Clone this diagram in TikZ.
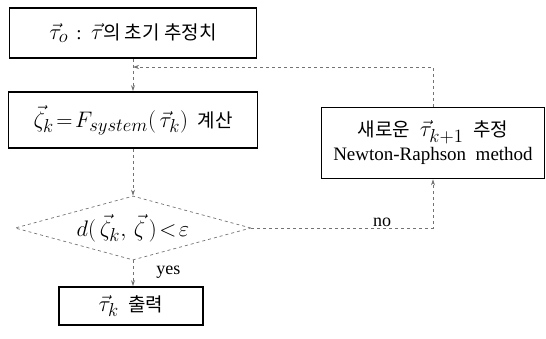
\documentclass[tikz,border=0pt]{standalone}
\usepackage{fontspec}
\usepackage{graphicx}
\setmainfont{Liberation Serif}
\newfontfamily\krfont{Noto Sans CJK KR}
\newcommand{\hk}[1]{{\krfont #1}}
% enlarged formula text
\newcommand{\fm}[1]{\scalebox{1.3}{$#1$}}
\usetikzlibrary{shapes.geometric,arrows.meta}
\begin{document}
\begin{tikzpicture}[x=1pt,y=-1pt,
  box/.style={draw=black,line width=1.6pt,inner sep=0pt,align=center,
    font=\fontsize{19}{24}\selectfont},
  cond/.style={diamond,aspect=3.7,draw=black!55,dashed,line width=0.7pt,inner sep=0pt,
    font=\fontsize{19}{23}\selectfont},
  conn/.style={draw=black!55,dashed,line width=0.7pt},
  arr/.style={conn,-{Stealth[length=6pt,width=4pt]}},
  lbl/.style={font=\fontsize{18}{20}\selectfont,inner sep=1pt}]
\useasboundingbox (0,0) rectangle (546,338);
\node[box,minimum width=247,minimum height=50] (init) at (133,33)
  {\fm{\vec{\tau}_o} \,:\, \fm{\vec{\tau}}\hk{의 초기 추정치}};
\node[box,minimum width=249,minimum height=56] (calc) at (133,120)
  {\fm{\vec{\zeta}_k\!=\!F_{system}(\,\vec{\tau}_k)} \ \hk{계산}};
\node[cond,minimum width=236,minimum height=64] (test) at (133,228)
  {\fm{d(\,\vec{\zeta}_k,\,\vec{\zeta}\,)\!<\!\varepsilon}};
\node[box,minimum width=144,minimum height=38] (out) at (131,306)
  {\fm{\vec{\tau}_k} \ \hk{출력}};
\node[box,minimum width=223,minimum height=71] (newton) at (433,143)
  {\hk{새로운} \ \fm{\vec{\tau}_{k+1}} \ \hk{추정}\\Newton-Raphson\ \ method};
\coordinate (join) at (133,67);
\draw[arr] (init.south) -- (calc.north);
\draw[arr] (calc.south) -- (test.north);
\draw[arr] (test.south) -- node[lbl,right,pos=0.45,xshift=22pt] {yes} (out.north -| test.south);
\draw[arr] (test.east) -| node[lbl,pos=0.36,above] {no} (newton.south);
\draw[arr] (newton.north) |- (join);
\end{tikzpicture}
\end{document}
